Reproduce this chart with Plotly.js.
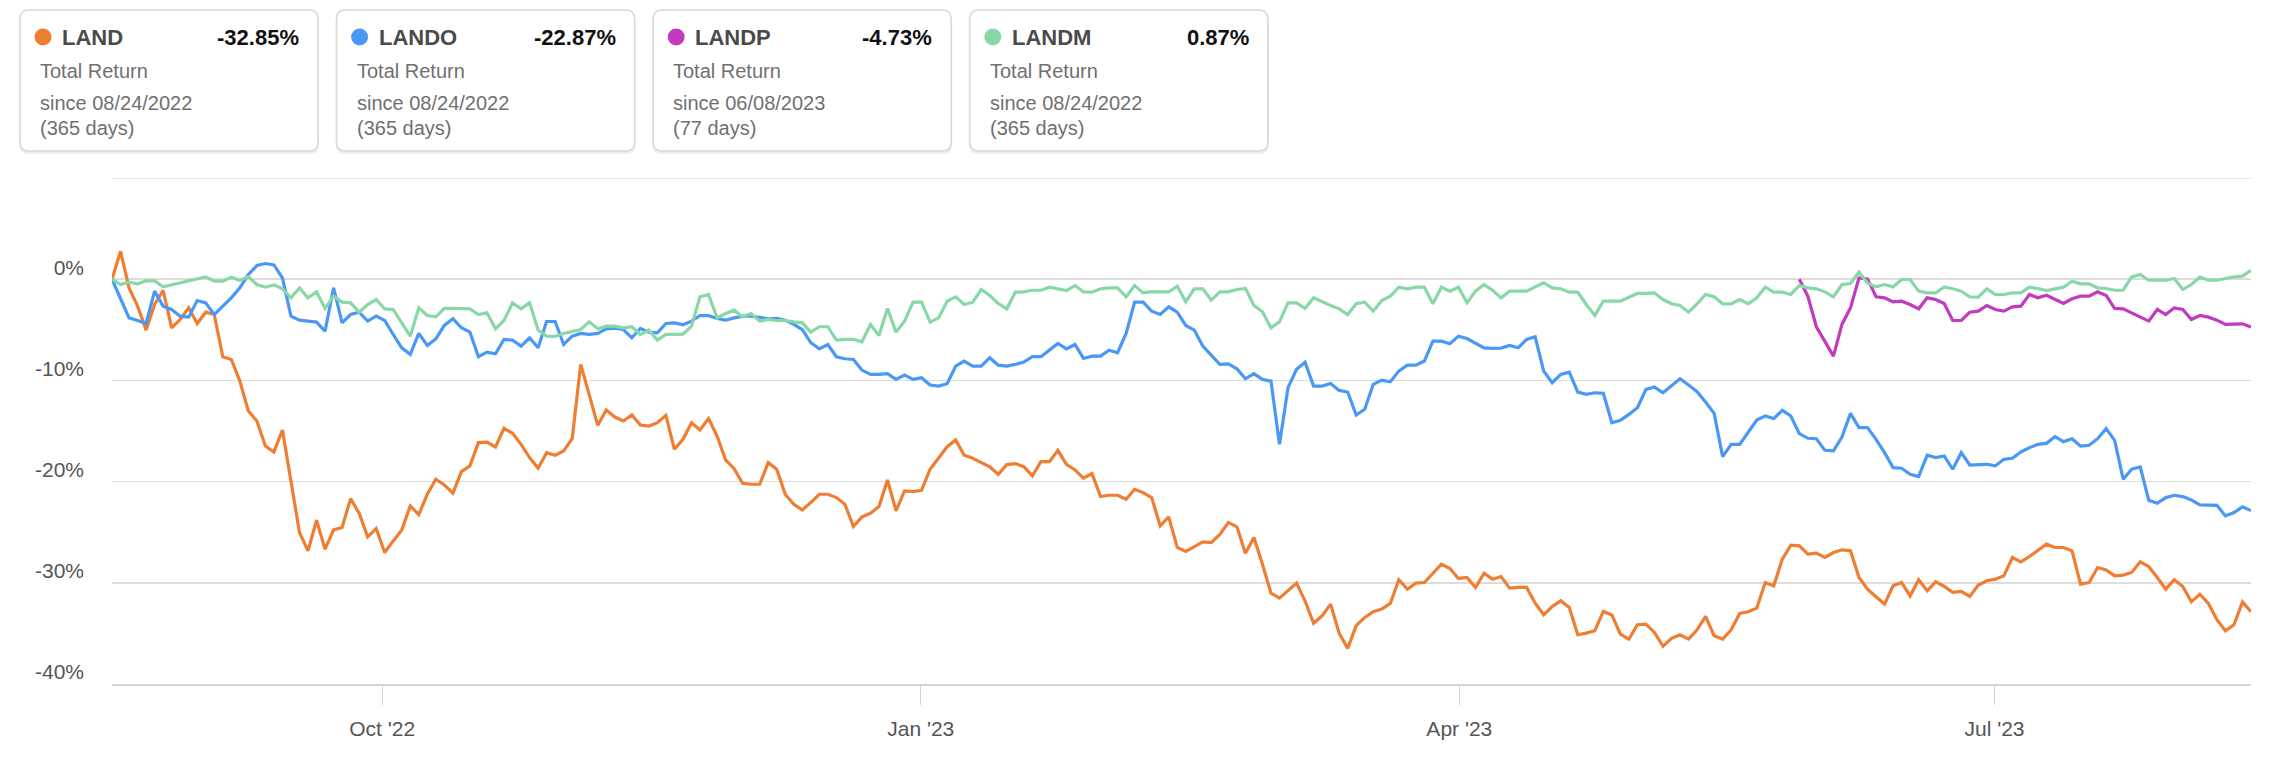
<!DOCTYPE html>
<html>
<head>
<meta charset="utf-8">
<script src="https://cdn.plot.ly/plotly-3.0.1.min.js"></script>
<style>
  html, body { margin: 0; padding: 0; background: #ffffff; }
  #chart { width: 2288px; height: 784px; }
</style>
</head>
<body>
<div id="chart"></div>
<script>
// ---------------- DATA ----------------
const START_DATE = '2022-08-24';
const END_DATE = '2023-08-24';
const HOLIDAYS = ['2022-09-05','2022-11-24','2022-12-26','2023-01-02','2023-01-16',
                  '2023-02-20','2023-04-07','2023-05-29','2023-06-19','2023-07-04'];

const tickers = ['LAND', 'LANDO', 'LANDP', 'LANDM'];
const totalReturns = ['-32.85%', '-22.87%', '-4.73%', '0.87%'];
const sinceDates = ['since 08/24/2022', 'since 08/24/2022', 'since 06/08/2023', 'since 08/24/2022'];
const periodDays = ['(365 days)', '(365 days)', '(77 days)', '(365 days)'];
const LANDP_START = '2023-06-08';

const tickDates = ['2022-10-07 16:48', '2023-01-09 21:36', '2023-04-12 02:24', '2023-07-12 21:36'];
const tickLabels = ["Oct '22", "Jan '23", "Apr '23", "Jul '23"];
const yTickVals = [-40, -30, -20, -10, 0, 10];
const yTickText = ['-40%', '-30%', '-20%', '-10%', '0%', ''];

const LAND = [0,2.76,-0.86,-2.66,-5.03,-2.5,-1.09,-4.80,-3.98,-2.83,
-4.38,-3.26,-3.49,-7.66,-7.93,-10.07,-13.03,-14.01,-16.48,-17.07,
-14.90,-19.77,-25.03,-26.84,-23.82,-26.68,-24.77,-24.54,-21.68,-23.13,
-25.46,-24.64,-27.01,-25.86,-24.77,-22.40,-23.26,-21.25,-19.77,-20.33,
-21.15,-19.01,-18.45,-16.15,-16.09,-16.58,-14.74,-15.23,-16.32,-17.63,
-18.68,-17.14,-17.40,-16.97,-15.76,-8.42,-11.38,-14.44,-12.93,-13.62,
-14.01,-13.42,-14.41,-14.51,-14.18,-13.45,-16.81,-15.82,-14.18,-14.90,
-13.78,-15.49,-17.86,-18.72,-20.16,-20.26,-20.26,-18.13,-18.78,-21.25,
-22.24,-22.80,-22.07,-21.25,-21.25,-21.58,-22.24,-24.44,-23.49,-23.13,
-22.47,-19.84,-22.89,-20.92,-20.99,-20.86,-18.78,-17.63,-16.55,-15.89,
-17.40,-17.70,-18.13,-18.55,-19.28,-18.32,-18.22,-18.52,-19.44,-18.03,
-18.03,-16.91,-18.29,-18.85,-19.67,-19.21,-21.48,-21.35,-21.35,-21.74,
-20.76,-21.09,-21.58,-24.38,-23.49,-26.51,-26.91,-26.41,-25.95,-26.02,
-25.23,-24.05,-24.47,-27.07,-25.53,-28.16,-31.02,-31.51,-30.79,-30.03,
-31.8,-34.0,-33.26,-32.11,-35.0,-36.48,-34.24,-33.42,-32.86,-32.60,
-32.04,-29.70,-30.63,-30.03,-29.97,-29.05,-28.16,-28.59,-29.57,-29.47,
-30.46,-29.05,-29.64,-29.38,-30.53,-30.46,-30.46,-32.01,-33.16,-32.34,
-31.78,-32.43,-35.13,-34.97,-34.74,-32.83,-33.19,-35.07,-35.56,-34.14,
-34.08,-34.90,-36.28,-35.49,-35.13,-35.56,-34.64,-33.32,-35.23,-35.56,
-34.64,-33.03,-32.86,-32.50,-29.97,-30.30,-27.66,-26.28,-26.35,-27.17,
-27.07,-27.50,-27.01,-26.74,-26.84,-29.47,-30.63,-31.38,-32.11,-30.30,
-29.97,-31.3,-29.70,-30.79,-29.90,-30.36,-30.95,-30.86,-31.35,-30.23,
-29.80,-29.64,-29.31,-27.50,-27.93,-27.40,-26.74,-26.18,-26.51,-26.51,
-26.84,-30.13,-29.97,-28.49,-28.72,-29.31,-29.24,-28.98,-27.93,-28.39,
-29.47,-30.63,-29.70,-30.36,-31.88,-31.12,-32.04,-33.65,-34.74,-34.14,
-31.88,-32.85];

const LANDO = [0,-2.01,-3.82,-4.08,-4.38,-1.18,-2.66,-2.99,-3.65,-3.75,
-2.11,-2.34,-3.49,-2.66,-1.84,-0.86,0.46,1.35,1.55,1.41,
0.13,-3.65,-4.05,-4.14,-4.24,-5.13,-0.86,-4.31,-3.49,-3.26,
-4.14,-3.65,-4.08,-5.46,-6.78,-7.43,-5.36,-6.55,-5.89,-4.57,
-3.91,-4.80,-5.23,-7.66,-7.20,-7.37,-5.95,-6.02,-6.61,-5.79,
-6.78,-4.18,-4.18,-6.45,-5.63,-5.36,-5.46,-5.36,-4.90,-4.84,
-4.97,-5.79,-4.87,-5.23,-5.30,-4.38,-4.31,-4.51,-4.14,-3.59,
-3.6,-3.88,-4.05,-3.82,-3.65,-3.65,-3.82,-3.91,-3.88,-4.05,
-4.47,-4.97,-6.28,-6.88,-6.45,-7.66,-7.86,-7.93,-8.98,-9.41,
-9.41,-9.34,-9.90,-9.47,-9.90,-9.74,-10.46,-10.56,-10.33,-8.59,
-8.09,-8.59,-8.59,-7.76,-8.49,-8.59,-8.42,-8.19,-7.66,-7.66,
-7.01,-6.35,-6.88,-6.45,-7.83,-7.60,-7.60,-7.01,-7.27,-5.36,
-2.27,-2.27,-3.16,-3.49,-2.73,-3.26,-4.57,-5.03,-6.61,-7.53,
-8.42,-8.36,-8.85,-9.84,-9.34,-9.90,-10.07,-16.32,-10.72,-8.91,
-8.2,-10.56,-10.56,-10.30,-10.99,-11.15,-13.42,-12.86,-10.39,-9.97,
-10.13,-9.08,-8.49,-8.49,-8.09,-6.12,-6.12,-6.38,-5.63,-5.86,
-6.35,-6.78,-6.84,-6.81,-6.55,-6.78,-5.95,-5.69,-9.08,-10.23,
-9.41,-9.18,-11.15,-11.38,-11.22,-11.28,-14.18,-13.95,-13.36,-12.70,
-10.89,-10.66,-11.22,-10.49,-9.84,-10.46,-11.12,-12.14,-13.26,-17.53,
-16.32,-16.32,-15.16,-13.91,-13.52,-13.78,-12.96,-13.52,-15.26,-15.72,
-15.76,-16.91,-16.97,-15.59,-13.26,-14.67,-14.67,-15.82,-17.14,-18.62,
-18.68,-19.28,-19.51,-17.40,-17.63,-17.47,-18.78,-17.14,-18.36,-18.29,
-18.29,-18.45,-17.80,-17.70,-17.07,-16.64,-16.32,-16.22,-15.56,-16.05,
-15.76,-16.48,-16.41,-15.76,-14.77,-15.92,-19.77,-18.78,-18.55,-21.84,
-22.14,-21.58,-21.35,-21.48,-21.81,-22.30,-22.30,-22.34,-23.39,-23.06,
-22.50,-22.87];

const LANDM = [0,-0.53,-0.30,-0.46,-0.16,-0.16,-0.76,-0.56,-0.30,-0.10,
0.03,0.23,-0.20,-0.20,0.20,-0.10,0.23,-0.53,-0.79,-0.56,
-0.95,-1.84,-0.86,-1.84,-1.25,-2.89,-1.68,-2.27,-2.34,-3.26,
-2.50,-2.01,-2.93,-2.99,-4.31,-5.63,-2.83,-3.59,-3.72,-2.89,
-2.89,-2.93,-2.93,-3.49,-3.32,-4.90,-4.08,-2.34,-2.93,-2.34,
-5.03,-5.63,-5.66,-5.36,-5.13,-4.97,-4.21,-4.90,-4.64,-4.64,
-4.80,-4.70,-5.46,-5.03,-6.02,-5.46,-5.46,-5.43,-4.64,-1.74,
-1.51,-3.82,-3.39,-3.06,-3.72,-3.39,-4.14,-3.98,-4.08,-4.08,
-4.21,-4.31,-5.23,-4.70,-4.70,-6.02,-5.95,-5.95,-6.18,-4.47,
-5.56,-2.89,-5.23,-4.14,-2.27,-2.27,-4.24,-3.82,-2.17,-1.74,
-2.50,-2.27,-1.02,-1.61,-2.40,-2.93,-1.28,-1.25,-1.09,-1.09,
-0.79,-0.95,-1.12,-0.63,-1.25,-1.28,-0.95,-0.86,-0.86,-1.74,
-0.63,-1.35,-1.22,-1.25,-1.25,-0.69,-2.24,-0.95,-0.95,-2.07,
-1.25,-1.25,-1.02,-0.92,-2.60,-3.22,-4.80,-4.21,-2.34,-2.34,
-2.88,-1.84,-2.24,-2.60,-2.93,-3.49,-2.43,-2.27,-3.16,-2.11,
-1.68,-0.79,-0.95,-0.79,-0.79,-2.43,-0.79,-1.18,-0.79,-2.34,
-1.18,-0.53,-1.09,-1.84,-1.18,-1.18,-1.18,-0.76,-0.36,-0.86,
-0.95,-1.28,-1.28,-2.50,-3.59,-2.17,-2.17,-2.17,-1.78,-1.41,
-1.41,-1.35,-2.01,-2.43,-2.60,-3.26,-2.43,-1.51,-1.74,-2.43,
-2.43,-2.01,-2.43,-1.84,-0.79,-1.28,-1.28,-1.51,-0.63,-0.86,
-0.95,-1.25,-1.74,-0.53,-0.43,0.69,-0.36,-0.76,-0.53,-0.76,
-0.03,-0.03,-1.18,-1.35,-1.35,-0.76,-0.95,-1.18,-1.74,-1.78,
-0.95,-1.51,-1.51,-1.35,-1.35,-0.79,-0.92,-1.12,-0.95,-0.79,
-0.20,-0.46,-0.46,-0.86,-0.92,-1.09,-1.09,0.23,0.46,-0.10,
-0.10,-0.10,0.07,-1.02,-0.53,0.20,-0.10,-0.10,0.07,0.23,
0.30,0.87];

const LANDP = [0,-1.68,-4.70,-6.12,-7.60,-4.47,-2.83,0.13,0.03,-1.74,
-1.84,-2.24,-2.17,-2.50,-2.93,-1.84,-2.01,-2.40,-4.08,-4.08,
-3.26,-3.16,-2.60,-2.99,-3.16,-2.73,-2.66,-1.51,-1.84,-1.58,
-2.01,-2.40,-1.94,-1.68,-1.68,-1.25,-1.61,-2.89,-2.93,-3.32,
-3.75,-4.14,-2.99,-3.49,-2.83,-2.99,-3.98,-3.59,-3.75,-4.05,
-4.47,-4.47,-4.41,-4.73];

// ---------------- STYLE ----------------
const COLORS = { LAND: '#EF7D32', LANDO: '#4A98F6', LANDP: '#C23AC0', LANDM: '#88D8A7' };
const W = 2288, H = 784;
const M = { l: 112, r: 37, t: 178, b: 100 };
const PW = W - M.l - M.r, PH = H - M.t - M.b;
const FONT = '"Liberation Sans", Arial, Helvetica, sans-serif';
const GRID = '#dcdcdc';

// trading-day calendar
function tradingDays(start, end, holidays) {
  const out = [];
  let d = new Date(start + 'T00:00:00Z');
  const e = new Date(end + 'T00:00:00Z');
  while (d <= e) {
    const dow = d.getUTCDay();
    const s = d.toISOString().slice(0, 10);
    if (dow !== 0 && dow !== 6 && holidays.indexOf(s) < 0) out.push(s);
    d = new Date(d.getTime() + 86400000);
  }
  return out;
}
const dates = tradingDays(START_DATE, END_DATE, HOLIDAYS);
const datesP = dates.slice(dates.indexOf(LANDP_START));

function line(name, x, y) {
  return { type: 'scatter', mode: 'lines', name: name, x: x, y: y,
           line: { color: COLORS[name], width: 3.2, shape: 'linear' },
           hoverinfo: 'skip', showlegend: false };
}
const traces = [
  line('LAND', dates, LAND),
  line('LANDO', dates, LANDO),
  line('LANDP', datesP, LANDP),
  line('LANDM', dates, LANDM)
];

// pixel -> paper helpers
const px = v => (v - M.l) / PW;
const py = v => (H - M.b - v) / PH;

function roundRect(x0, y0, x1, y1, r) {
  const P = (a, b) => px(a) + ',' + py(b);
  return 'M' + P(x0 + r, y0) + ' L' + P(x1 - r, y0) + ' Q' + P(x1, y0) + ' ' + P(x1, y0 + r) +
         ' L' + P(x1, y1 - r) + ' Q' + P(x1, y1) + ' ' + P(x1 - r, y1) +
         ' L' + P(x0 + r, y1) + ' Q' + P(x0, y1) + ' ' + P(x0, y1 - r) +
         ' L' + P(x0, y0 + r) + ' Q' + P(x0, y0) + ' ' + P(x0 + r, y0) + ' Z';
}

const shapes = [
  // top (10%) gridline at the plot edge
  { type: 'line', xref: 'paper', yref: 'y', x0: 0, x1: 1, y0: 10, y1: 10,
    line: { color: GRID, width: 1.5 }, layer: 'below' }
];
const annotations = [];
const CARD_LEFT = 20, CARD_STEP = 316.6, CARD_W = 298, CARD_TOP = 10, CARD_BOT = 151;
tickers.forEach((t, i) => {
  const x0 = CARD_LEFT + CARD_STEP * i, x1 = x0 + CARD_W;
  shapes.push({ type: 'path', xref: 'paper', yref: 'paper', path: roundRect(x0, CARD_TOP + 2, x1, CARD_BOT + 2, 9),
                line: { color: '#ececec', width: 2 }, fillcolor: '#ececec', layer: 'above' });
  shapes.push({ type: 'path', xref: 'paper', yref: 'paper', path: roundRect(x0, CARD_TOP, x1, CARD_BOT, 9),
                line: { color: '#d9d9d9', width: 1.5 }, fillcolor: '#ffffff', layer: 'above' });
  const cx = x0 + 23, cy = 37, r = 8.5;
  shapes.push({ type: 'circle', xref: 'paper', yref: 'paper',
                x0: px(cx - r), x1: px(cx + r), y0: py(cy + r), y1: py(cy - r),
                line: { width: 0 }, fillcolor: COLORS[t], layer: 'above' });
  const ann = (x, y, text, anchor, size, color, bold) => annotations.push({
    xref: 'paper', yref: 'paper', x: px(x), y: py(y), text: bold ? '<b>' + text + '</b>' : text,
    showarrow: false, xanchor: anchor, yanchor: 'middle',
    font: { family: FONT, size: size, color: color } });
  ann(x0 + 40, cy, t, 'left', 22, '#4a4a4a', true);
  ann(x1 - 17, cy, totalReturns[i], 'right', 22, '#111111', true);
  ann(x0 + 18, 71, 'Total Return', 'left', 20, '#707070', false);
  ann(x0 + 18, 103, sinceDates[i], 'left', 20, '#707070', false);
  ann(x0 + 18, 128, periodDays[i], 'left', 20, '#707070', false);
});

const layout = {
  width: W, height: H,
  margin: M,
  paper_bgcolor: '#ffffff', plot_bgcolor: '#ffffff',
  showlegend: false,
  font: { family: FONT, color: '#555555' },
  xaxis: {
    type: 'date',
    range: [dates[0], dates[dates.length - 1]],
    rangebreaks: [ { bounds: ['sat', 'mon'] }, { values: HOLIDAYS } ],
    tickmode: 'array', tickvals: tickDates, ticktext: tickLabels,
    showgrid: false, zeroline: false,
    showline: true, linecolor: '#d4d4d4', linewidth: 2,
    ticks: 'outside', ticklen: 19, tickwidth: 1, tickcolor: '#d4d4d4',
    tickfont: { family: FONT, size: 21, color: '#555555' },
    ticklabelstandoff: 6,
    fixedrange: true
  },
  yaxis: {
    range: [-40, 10],
    tickmode: 'array', tickvals: yTickVals, ticktext: yTickText,
    showgrid: true, gridcolor: GRID, gridwidth: 1.5,
    zeroline: false, showline: false, ticks: '',
    tickfont: { family: FONT, size: 21, color: '#555555' },
    ticklabelstandoff: 27, ticklabelshift: -12,
    fixedrange: true
  },
  shapes: shapes,
  annotations: annotations
};

Plotly.newPlot('chart', traces, layout, { displayModeBar: false, staticPlot: true });
</script>
</body>
</html>
